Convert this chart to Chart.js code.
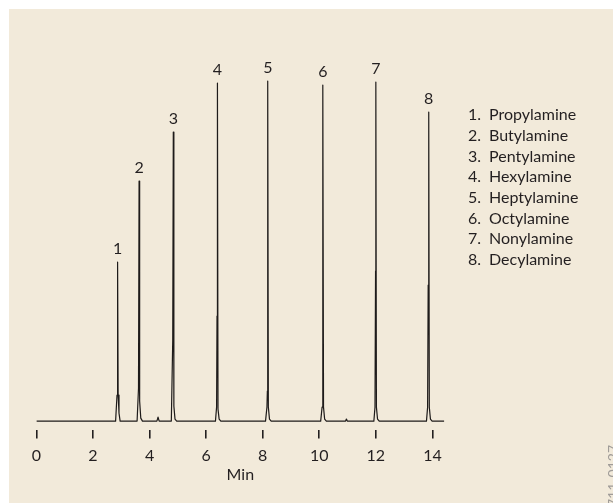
<!DOCTYPE html>
<html>
<head>
<meta charset="utf-8">
<script src="https://cdn.jsdelivr.net/npm/chart.js@4.4.1/dist/chart.umd.min.js"></script>
<style>
  html, body { margin: 0; padding: 0; background: #ffffff; }
  #panel { position: absolute; left: 9px; top: 9px; width: 604px; height: 494px; background: #f2eada; overflow: hidden; }
</style>
</head>
<body>
<div id="panel"><canvas id="chrom"></canvas></div>
<script>
// chromatogram trace (time in min, detector signal in arbitrary units)
var retentionMin = [0, 2.80, 2.85, 2.87, 2.89, 2.92, 2.96,
    3.56, 3.61, 3.63, 3.65, 3.69, 3.75,
    4.26, 4.30, 4.34,
    4.77, 4.82, 4.84, 4.86, 4.90, 4.96,
    6.33, 6.37, 6.385, 6.40, 6.42, 6.46, 6.52,
    8.10, 8.15, 8.165, 8.175, 8.18, 8.20, 8.24, 8.30,
    10.05, 10.10, 10.12, 10.13, 10.15, 10.19, 10.25,
    10.93, 10.96, 10.99,
    11.93, 11.97, 11.99, 12.00, 12.02, 12.06, 12.12,
    13.79, 13.83, 13.85, 13.87, 13.89, 13.93, 13.99,
    14.42];
var signal = [0, 0, 26, 159, 26, 8, 0,
    0, 33, 240, 20, 3, 0,
    0, 4, 0,
    0, 81, 289, 15, 2, 0,
    0, 14, 105, 338, 12, 2, 0,
    0, 14, 30, 148, 340, 14, 2, 0,
    0, 14, 160, 336, 14, 2, 0,
    0, 2, 0,
    0, 14, 150, 339, 14, 2, 0,
    0, 14, 136, 309, 14, 2, 0,
    0];

var peakNumbers = ["1", "2", "3", "4", "5", "6", "7", "8"];
var peakTimes = [2.87, 3.63, 4.84, 6.40, 8.18, 10.13, 12.00, 13.87];
var peakHeights = [159, 240, 289, 338, 340, 336, 339, 309];
var compounds = ["Propylamine", "Butylamine", "Pentylamine", "Hexylamine",
    "Heptylamine", "Octylamine", "Nonylamine", "Decylamine"];
var xTicks = [0, 2, 4, 6, 8, 10, 12, 14];

var inkColor = "#231f20";
var fontFamily = "Lato, 'Open Sans', sans-serif";

var trace = retentionMin.map(function (t, i) { return { x: t, y: signal[i] }; });

// peak numbers above the peaks, compound list on the right, figure code
var annotate = {
    id: "annotate",
    afterDatasetsDraw: function (chart) {
        var ctx = chart.ctx;
        var x = chart.scales.x, y = chart.scales.y;
        ctx.save();
        ctx.fillStyle = inkColor;
        ctx.font = "16px " + fontFamily;
        ctx.textAlign = "center";
        ctx.textBaseline = "alphabetic";
        peakNumbers.forEach(function (n, i) {
            ctx.fillText(n, x.getPixelForValue(peakTimes[i]), y.getPixelForValue(peakHeights[i]) - 8);
        });

        ctx.textAlign = "left";
        ctx.textBaseline = "middle";
        compounds.forEach(function (name, i) {
            var yy = 106 + i * 20.7;
            ctx.fillText(peakNumbers[i] + ".", 459, yy);
            ctx.fillText(name, 480, yy);
        });

        ctx.fillStyle = "#a09c98";
        ctx.font = "14px " + fontFamily;
        ctx.translate(597, 498);
        ctx.rotate(-Math.PI / 2);
        ctx.textBaseline = "top";
        ctx.fillText("711-0127", 0, 0);
        ctx.restore();
    }
};

var config = {
    type: "line",
    data: {
        datasets: [{
            data: trace,
            borderColor: "#1e1b1a",
            borderWidth: 1.2,
            borderJoinStyle: "round",
            pointRadius: 0,
            tension: 0,
            fill: false
        }]
    },
    options: {
        responsive: true,
        maintainAspectRatio: false,
        animation: false,
        events: [],
        layout: { padding: { left: 27.4, right: 168.7, top: 51, bottom: 19 } },
        plugins: { legend: { display: false }, tooltip: { enabled: false } },
        scales: {
            x: {
                type: "linear",
                min: 0,
                max: 14.42,
                afterBuildTicks: function (scale) {
                    scale.ticks = xTicks.map(function (v) { return { value: v }; });
                },
                border: { display: false },
                grid: {
                    drawOnChartArea: false,
                    drawTicks: true,
                    tickLength: 8.5,
                    color: inkColor,
                    lineWidth: 1.6
                },
                ticks: {
                    color: inkColor,
                    padding: 8,
                    maxRotation: 0,
                    font: { family: fontFamily, size: 16, lineHeight: 1.2 }
                },
                title: {
                    display: true,
                    text: "Min",
                    color: inkColor,
                    padding: { top: -9, bottom: 0 },
                    font: { family: fontFamily, size: 16, lineHeight: 1.2 }
                }
            },
            y: {
                type: "linear",
                display: false,
                min: -9,
                max: 361
            }
        }
    },
    plugins: [annotate]
};

var chromChart = new Chart(document.getElementById("chrom"), config);
</script>
</body>
</html>
